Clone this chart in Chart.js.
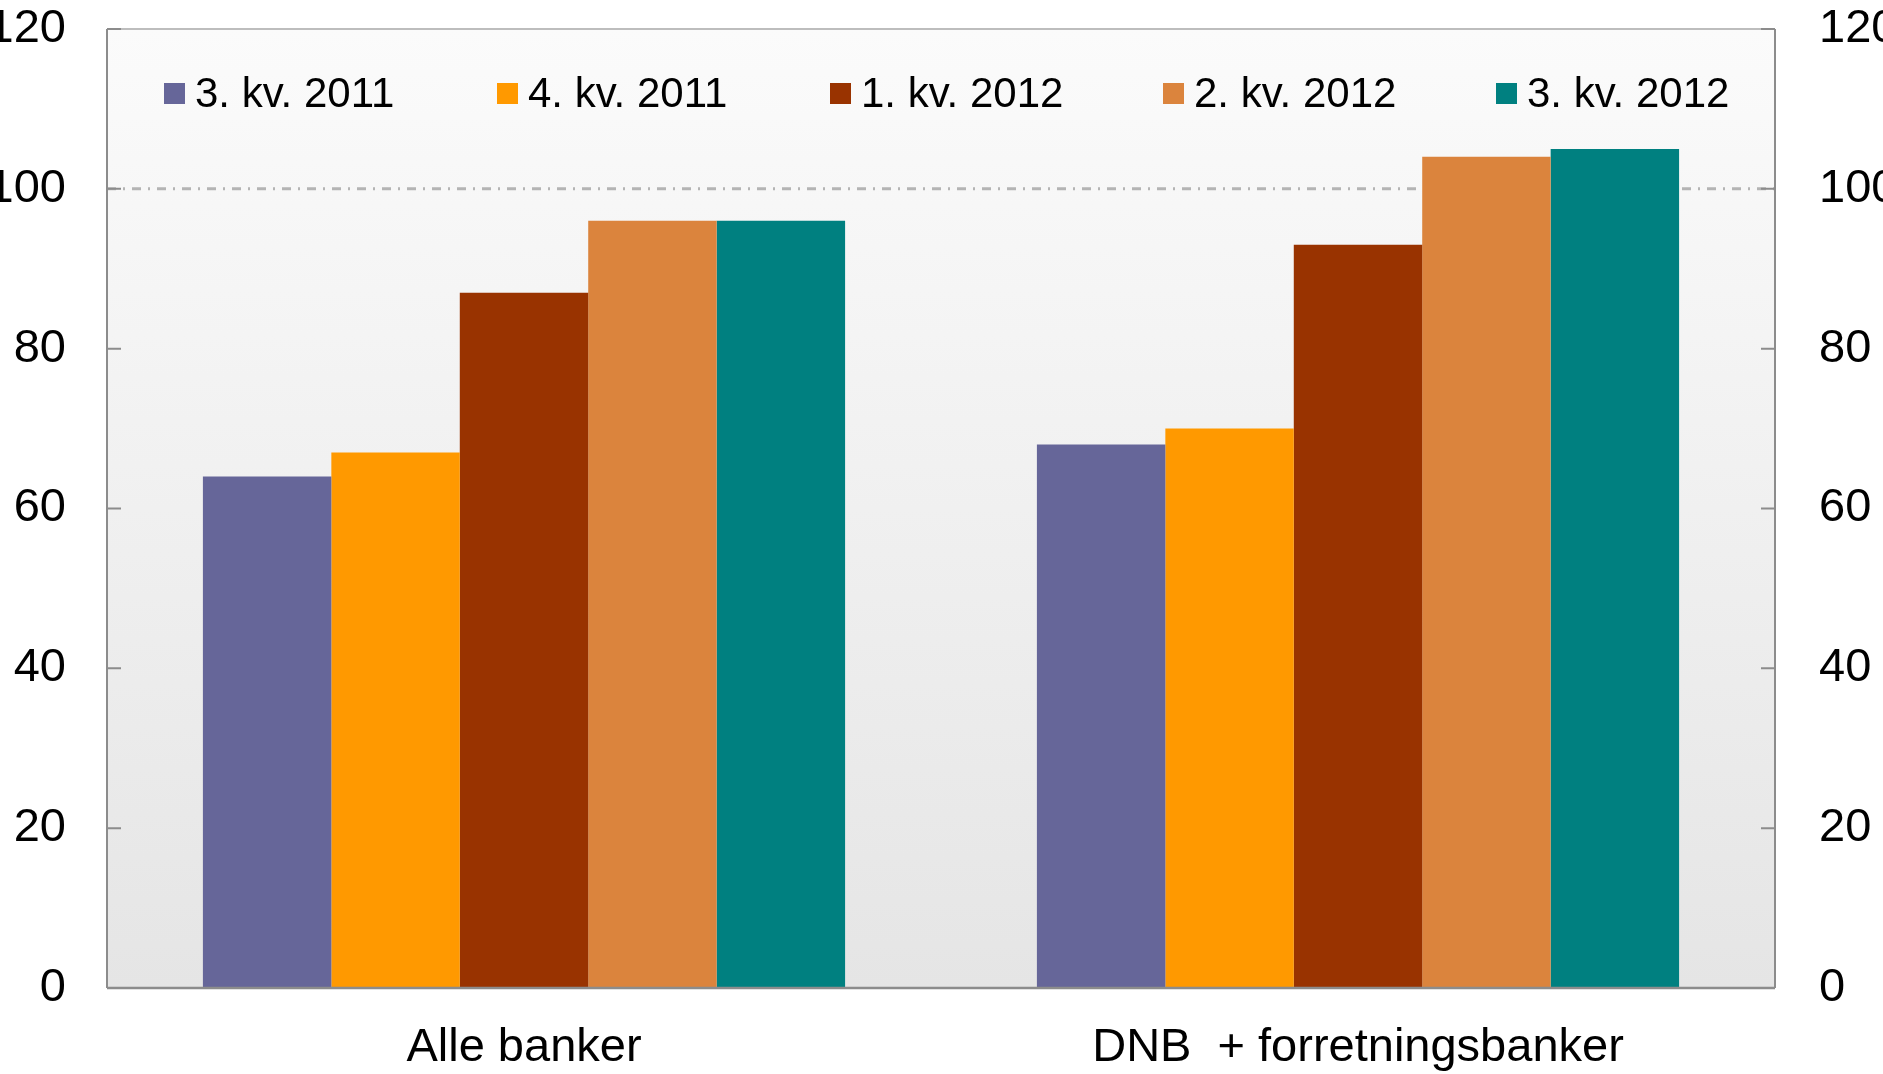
<!DOCTYPE html>
<html>
<head>
<meta charset="utf-8">
<script src="https://cdn.jsdelivr.net/npm/chart.js@4.4.0/dist/chart.umd.min.js"></script>
<style>
  html, body { margin: 0; padding: 0; background: #ffffff; }
  #wrap { width: 1883px; height: 1074px; position: relative; }
</style>
</head>
<body>
<div id="wrap"><canvas id="c" width="1883" height="1074"></canvas></div>
<script>
const categories = ["Alle banker", "DNB  + forretningsbanker"];
const seriesLabels = ["3. kv. 2011", "4. kv. 2011", "1. kv. 2012", "2. kv. 2012", "3. kv. 2012"];
const q3_2011 = [64, 68];
const q4_2011 = [67, 70];
const q1_2012 = [87, 93];
const q2_2012 = [96, 104];
const q3_2012 = [96, 105];
const seriesColors = ["#666699", "#FF9900", "#993300", "#DB843D", "#008080"];
const referenceLevel = 100;
const yMin = 0, yMax = 120, yStep = 20;

const FONT = "'Liberation Sans', Arial, sans-serif";
const seriesValues = [q3_2011, q4_2011, q1_2012, q2_2012, q3_2012];

const bgPlugin = {
  id: 'bg',
  beforeDraw(chart) {
    const ctx = chart.ctx, a = chart.chartArea;
    ctx.save();
    ctx.fillStyle = '#ffffff';
    ctx.fillRect(0, 0, chart.width, chart.height);
    const g = ctx.createLinearGradient(0, a.top, 0, a.bottom);
    g.addColorStop(0, '#fbfbfb');
    g.addColorStop(1, '#e5e5e5');
    ctx.fillStyle = g;
    ctx.fillRect(a.left, a.top, a.right - a.left, a.bottom - a.top);
    ctx.restore();
  },
  beforeDatasetsDraw(chart) {
    const ctx = chart.ctx, a = chart.chartArea;
    const y = chart.scales.y.getPixelForValue(referenceLevel);
    ctx.save();
    ctx.strokeStyle = '#b4b4b4';
    ctx.lineWidth = 3;
    ctx.setLineDash([9, 7, 2, 7]);
    ctx.beginPath();
    ctx.moveTo(a.left, y);
    ctx.lineTo(a.right, y);
    ctx.stroke();
    ctx.restore();
  },
  afterDatasetsDraw(chart) {
    const ctx = chart.ctx, a = chart.chartArea;
    const ys = chart.scales.y;
    ctx.save();
    ctx.strokeStyle = '#bdbdbd';
    ctx.lineWidth = 2;
    ctx.beginPath();
    ctx.moveTo(a.left, a.top); ctx.lineTo(a.right, a.top);
    ctx.stroke();
    ctx.strokeStyle = '#8c8c8c';
    ctx.beginPath();
    ctx.moveTo(a.left, a.top); ctx.lineTo(a.left, a.bottom);
    ctx.moveTo(a.right, a.top); ctx.lineTo(a.right, a.bottom);
    ctx.stroke();
    ctx.lineWidth = 2.5;
    ctx.beginPath();
    ctx.moveTo(a.left, a.bottom); ctx.lineTo(a.right, a.bottom);
    ctx.stroke();
    ctx.lineWidth = 2;
    ctx.strokeStyle = '#8c8c8c';
    ctx.beginPath();
    ys.ticks.forEach(t => {
      const y = ys.getPixelForValue(t.value);
      ctx.moveTo(a.left, y); ctx.lineTo(a.left + 14, y);
      ctx.moveTo(a.right, y); ctx.lineTo(a.right - 14, y);
    });
    ctx.stroke();
    const ly = a.top + 65;
    const startX = a.left + 57;
    const step = 333;
    ctx.font = '42px ' + FONT;
    ctx.textBaseline = 'middle';
    ctx.textAlign = 'left';
    chart.data.datasets.forEach((ds, i) => {
      const x = startX + i * step;
      ctx.fillStyle = ds.backgroundColor;
      ctx.fillRect(x, ly - 11, 21, 21);
      ctx.fillStyle = '#000000';
      ctx.fillText(ds.label, x + 31, ly + 1);
    });
    ctx.restore();
  }
};

function noPad(s) { s.paddingTop = 0; s.paddingBottom = 0; }

new Chart(document.getElementById('c'), {
  type: 'bar',
  data: {
    labels: categories,
    datasets: seriesLabels.map((l, i) => ({
      label: l,
      data: seriesValues[i],
      backgroundColor: seriesColors[i],
      borderWidth: 0,
      categoryPercentage: 0.77,
      barPercentage: 1.0,
      yAxisID: 'y'
    }))
  },
  options: {
    responsive: false,
    animation: false,
    devicePixelRatio: 1,
    layout: { padding: { top: 29, left: 0, right: 0, bottom: 0 } },
    plugins: { legend: { display: false }, tooltip: { enabled: false } },
    scales: {
      x: {
        type: 'category',
        grid: { display: false, drawTicks: false },
        border: { display: false },
        ticks: { color: '#000', font: { family: FONT, size: 47 }, padding: 32, maxRotation: 0 },
        afterFit(s) { s.height = 86; s.paddingLeft = 0; s.paddingRight = 0; }
      },
      y: {
        position: 'left',
        min: yMin, max: yMax,
        grid: { display: false, drawTicks: false },
        border: { display: false },
        ticks: { stepSize: yStep, color: '#000', font: { family: FONT, size: 47 }, padding: 41 },
        afterFit(s) { s.width = 107; noPad(s); }
      },
      y2: {
        position: 'right',
        min: yMin, max: yMax,
        grid: { display: false, drawTicks: false },
        border: { display: false },
        ticks: { stepSize: yStep, color: '#000', font: { family: FONT, size: 47 }, padding: 44 },
        afterFit(s) { s.width = 108; noPad(s); }
      }
    }
  },
  plugins: [bgPlugin]
});
</script>
</body>
</html>
